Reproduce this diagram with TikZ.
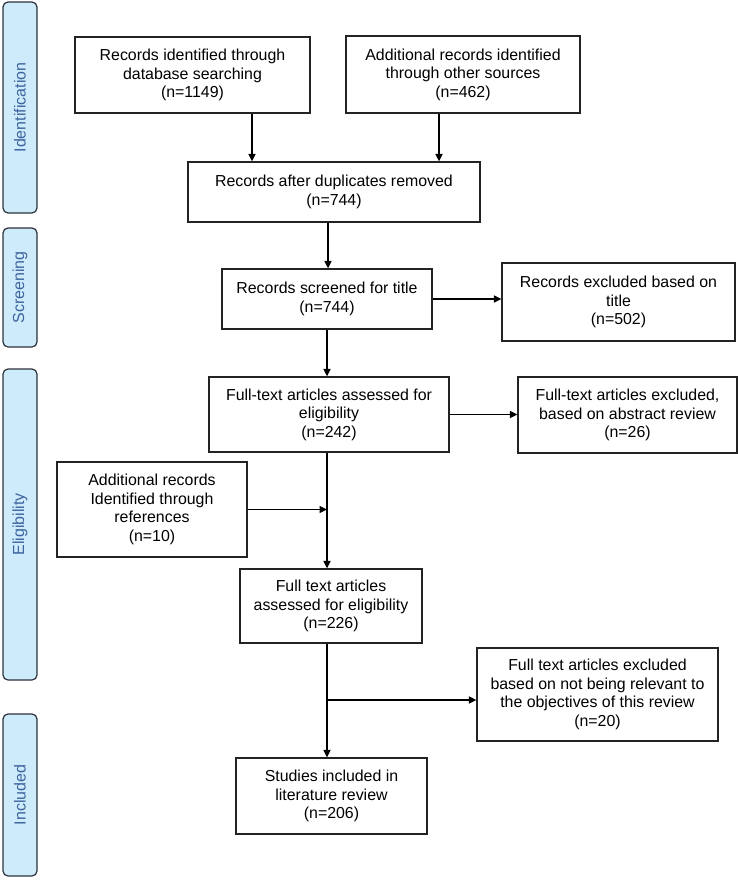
\documentclass[tikz,border=0pt]{standalone}
\usepackage{fontspec}
\setmainfont{Liberation Sans}
\usetikzlibrary{arrows.meta}
\definecolor{phasefill}{RGB}{205,235,251}
\definecolor{phasetext}{RGB}{62,100,158}
\definecolor{phaseline}{RGB}{45,50,60}
\definecolor{boxline}{RGB}{35,35,35}
\tikzset{
  box/.style={draw=boxline, line width=1.3pt, inner sep=0pt, align=center,
    font=\fontsize{15.9}{18.5}\selectfont},
  phase/.style={draw=phaseline, fill=phasefill, line width=1.2pt, rounded corners=5pt,
    inner sep=0pt, text=phasetext, font=\fontsize{16}{19}\selectfont},
  arr/.style={line width=1.5pt, draw=black, -{Triangle[length=7.5pt,width=7pt]}},
  ln/.style={line width=1.5pt, draw=black}
}
\begin{document}
\begin{tikzpicture}[x=1pt,y=-1pt]
\useasboundingbox (0,0) rectangle (738,880);
\fill[white] (0,0) rectangle (738,880);
% phase bars
\node[phase, rotate=90, minimum width=211, minimum height=34] (pid) at (20,107.5) {Identification};
\node[phase, rotate=90, minimum width=119, minimum height=34] (psc) at (20,287.5) {Screening};
\node[phase, rotate=90, minimum width=311, minimum height=34] (pel) at (20,524.5) {Eligibility};
\node[phase, rotate=90, minimum width=162, minimum height=34] (pin) at (20,795) {Included};
% boxes
\node[box, minimum width=235, minimum height=76] (b1) at (192.5,75) {Records identified through\\database searching\\(n=1149)};
\node[box, minimum width=234, minimum height=77] (b2) at (463,74.5) {Additional records identified\\through other sources\\(n=462)};
\node[box, minimum width=292, minimum height=60] (b3) at (334,192) {Records after duplicates removed\\(n=744)};
\node[box, minimum width=210, minimum height=60] (b4) at (327,299) {Records screened for title\\(n=744)};
\node[box, minimum width=233, minimum height=78] (b5) at (618.5,302) {Records excluded based on\\title\\(n=502)};
\node[box, minimum width=240, minimum height=75] (b6) at (329,414.5) {Full-text articles assessed for\\eligibility\\(n=242)};
\node[box, minimum width=219, minimum height=76] (b7) at (627.5,415) {Full-text articles excluded,\\based on abstract review\\(n=26)};
\node[box, minimum width=190, minimum height=95] (b8) at (152,509.5) {Additional records\\Identified through\\references\\(n=10)};
\node[box, minimum width=182, minimum height=74] (b9) at (331,606) {Full text articles\\assessed for eligibility\\(n=226)};
\node[box, minimum width=241, minimum height=93] (b10) at (597.5,694.5) {Full text articles excluded\\based on not being relevant to\\the objectives of this review\\(n=20)};
\node[box, minimum width=191, minimum height=76] (b11) at (331.5,796) {Studies included in\\literature review\\(n=206)};
% connector columns
\coordinate (c1) at (252,0);
\coordinate (c2) at (439,0);
\coordinate (c3) at (328,0);
\coordinate (c4) at (327,0);
\coordinate (br) at (327,700);
% connectors
\draw[arr] (b1.south -| c1) -- (b3.north -| c1);
\draw[arr] (b2.south -| c2) -- (b3.north -| c2);
\draw[arr] (b3.south -| c3) -- (b4.north -| c3);
\draw[arr] (b4.east) -- (b4.east -| b5.west);
\draw[arr] (b4.south -| c4) -- (b6.north -| c4);
\draw[arr] (b6.east) -- (b6.east -| b7.west);
\draw[arr] (b6.south -| c4) -- (b9.north -| c4);
\draw[arr] (b8.east) -- (b8.east -| c4);
\draw[arr] (b9.south -| c4) -- (b11.north -| c4);
\draw[arr] (br) -- (br -| b10.west);
\end{tikzpicture}
\end{document}
